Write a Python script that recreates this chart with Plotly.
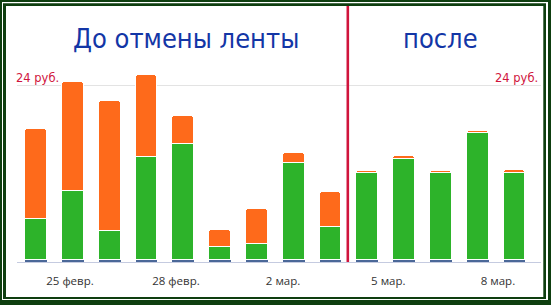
import plotly.graph_objects as go

# ---- data ----
day_index = list(range(14))  # 24 Feb .. 8 Mar (2024)
green = [5.6, 9.4, 3.95, 14.0, 15.75, 1.75, 2.15, 13.15, 4.5, 11.8, 13.8, 11.8, 17.25, 11.9]
orange = [12.24, 14.86, 17.72, 11.1, 3.89, 2.35, 4.8, 1.44, 4.76, 0.3, 0.3, 0.3, 0.3, 0.35]
blue = [0.2] * 14
tick_pos = [0.92, 3.80, 6.71, 9.57, 12.55]
tick_text = ["25 февр.", "28 февр.", "2 мар.", "5 мар.", "8 мар."]
split_at = 8.47
ref_value = 24

W, H = 551, 305
ML, MR, MT, MB = 17, 10, 20, 43
PW, PH = W - ML - MR, H - MT - MB

def px(x):
    return (x - ML) / PW

def py(y):
    return (H - MB - y) / PH

DARK = "#0e3e0f"
GREEN = "#2db32a"
ORANGE = "#fe6a1b"
BLUE = "#4b6898"
RED = "#d0143c"
TITLE = "#1336a6"

fig = go.Figure()
fig.add_bar(x=day_index, y=blue, marker=dict(color=BLUE, line=dict(width=0)), width=0.59)
fig.add_bar(x=day_index, y=green, marker=dict(color=GREEN, line=dict(color="white", width=1)), width=0.59)
fig.add_bar(x=day_index, y=orange, marker=dict(color=ORANGE, line=dict(color="white", width=1)), width=0.59)

shapes = []
# frame
shapes.append(dict(type="rect", xref="paper", yref="paper", x0=px(0), x1=px(W), y0=py(H), y1=py(0),
                   fillcolor=DARK, line=dict(width=0), layer="below"))
shapes.append(dict(type="rect", xref="paper", yref="paper", x0=px(2), x1=px(548), y0=py(300), y1=py(2),
                   fillcolor="white", line=dict(width=0), layer="below"))
shapes.append(dict(type="rect", xref="paper", yref="paper", x0=px(3), x1=px(546), y0=py(299), y1=py(3.3),
                   fillcolor=DARK, line=dict(width=0), layer="below"))
shapes.append(dict(type="rect", xref="paper", yref="paper", x0=px(6), x1=px(543.3), y0=py(297), y1=py(6),
                   fillcolor="white", line=dict(width=0), layer="below"))
# split line
shapes.append(dict(type="line", xref="x", yref="paper", x0=split_at, x1=split_at, y0=py(262), y1=py(6),
                   line=dict(color=RED, width=2.6)))
fig.update_layout(shapes=shapes)

ann_common = dict(xref="paper", yref="paper", showarrow=False, xanchor="center", yanchor="middle")
fig.add_annotation(text="До отмены ленты", x=px(186), y=py(38.5),
                   font=dict(family="DejaVu Sans Condensed, DejaVu Sans", size=27, color=TITLE), **ann_common)
fig.add_annotation(text="после", x=px(440), y=py(38.5),
                   font=dict(family="DejaVu Sans Condensed, DejaVu Sans", size=27, color=TITLE), **ann_common)
fig.add_annotation(text="24 руб.", x=px(37), y=py(77.8),
                   font=dict(family="DejaVu Sans", size=11.5, color=RED), **ann_common)
fig.add_annotation(text="24 руб.", x=px(516.5), y=py(77.8),
                   font=dict(family="DejaVu Sans", size=11.5, color=RED), **ann_common)

scale = 176.5 / ref_value
ymin = -0.5 / scale
ymax = ymin + PH / scale

fig.update_layout(
    width=W, height=H,
    margin=dict(l=ML, r=MR, t=MT, b=MB, pad=0, autoexpand=False),
    barmode="stack", bargap=0, barcornerradius=3,
    showlegend=False,
    paper_bgcolor="white", plot_bgcolor="rgba(0,0,0,0)",
    xaxis=dict(range=[-0.52, 13.72], tickvals=tick_pos, ticktext=tick_text, showgrid=False,
               zeroline=False, showline=True, linecolor="#c5cbe0", linewidth=1, ticks="",
               ticklabelstandoff=8,
               tickfont=dict(family="Open Sans", size=11.5, color="#333333"), fixedrange=True),
    yaxis=dict(range=[ymin, ymax], tickvals=[ref_value], showticklabels=False, showgrid=True,
               gridcolor="#e3e3e3", gridwidth=1, zeroline=False, showline=False, ticks="", fixedrange=True),
)

fig.write_html("out.html", config=dict(displayModeBar=False))
